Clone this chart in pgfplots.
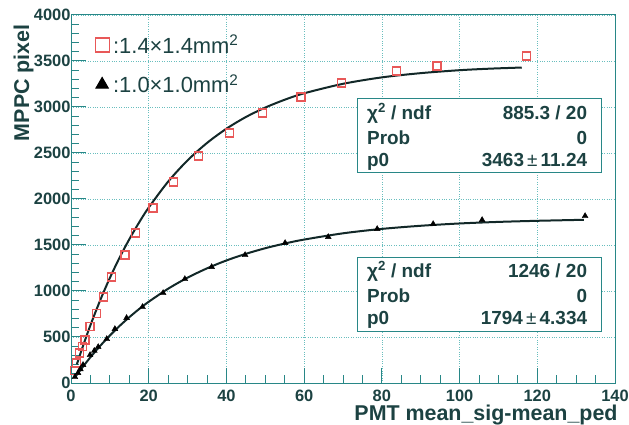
\documentclass[border=0pt]{standalone}
\usepackage{pgfplots}
\pgfplotsset{compat=1.18}
\usepackage{fontspec}
\setmainfont{Liberation Sans}

\definecolor{framec}{RGB}{40,135,135}
\definecolor{gridc}{RGB}{105,190,190}
\definecolor{txt}{RGB}{28,66,66}
\definecolor{sq}{RGB}{232,88,88}
\definecolor{fitc}{RGB}{18,40,40}

% measured points, 1.4x1.4 mm^2 MPPC
\pgfplotstableread{
x y
0.9 140
1.5 217
2.3 326
2.9 400
3.6 467
4.9 610
6.6 757
8.3 935
10.5 1152
13.9 1391
16.5 1630
21.1 1902
26.3 2185
32.7 2467
40.7 2717
49.2 2935
59.2 3109
69.7 3261
83.8 3391
94.2 3446
117.3 3554
}\bigpix

% measured points, 1.0x1.0 mm^2 MPPC
\pgfplotstableread{
x y
1.0 65
1.8 109
2.4 150
3.1 196
4.9 304
6.0 350
7.0 391
9.2 478
11.3 587
14.3 707
18.4 826
23.7 978
29.3 1130
36.2 1261
44.8 1391
55.1 1522
66.2 1587
78.8 1674
93.2 1728
105.8 1772
132.3 1815
}\smallpix

% saturation fit curves (tabulated)
\pgfplotstableread{
x y
1.5 202
3 392
5 628
7.5 898
10 1142
12.5 1363
15 1562
17.5 1743
20 1907
25 2189
30 2420
35 2609
40 2764
45 2891
50 2994
55 3079
60 3149
70 3252
80 3322
90 3368
100 3400
108 3417
116 3429
}\bigfit

\pgfplotstableread{
x y
1.0 60
1.5 89
3 173
5 280
7.5 403
10 516
12.5 620
15 715
17.5 803
20 883
25 1025
30 1145
35 1246
40 1332
45 1404
50 1465
55 1516
60 1559
70 1627
80 1675
90 1709
100 1734
110 1751
120 1763
132 1774
}\smallfit

\begin{document}
\begin{tikzpicture}
\begin{axis}[
  name=ax, scale only axis, width=544bp, height=368bp,
  xmin=0, xmax=140, ymin=0, ymax=4000,
  xtick={0,20,...,140}, ytick={0,500,...,4000},
  minor x tick num=3, minor y tick num=4,
  tick align=inside, xtick pos=bottom, ytick pos=left,
  major tick length=15bp, minor tick length=8bp,
  axis line style={framec, line width=1bp},
  every tick/.style={framec, line width=1bp},
  grid=major, grid style={gridc, dotted, line width=0.7bp},
  ticklabel style={font=\bfseries\fontsize{16.5}{16.5}\selectfont, text=txt},
  xticklabel style={yshift=-4bp},
  yticklabel style={xshift=3bp},
  /pgf/number format/assume math mode=true,
  /pgf/number format/1000 sep={},
  xlabel={PMT mean\_sig-mean\_ped}, ylabel={MPPC pixel},
  label style={font=\bfseries\fontsize{21.5}{21.5}\selectfont, text=txt, inner sep=0pt},
  xlabel style={at={(axis description cs:1.005,-0.103)}, anchor=base east},
  ylabel style={at={(axis description cs:-0.077,0.975)}, anchor=base east},
  legend style={draw=none, fill=none, at={(axis description cs:0.044,0.946)},
    anchor=north west, font=\fontsize{22}{22}\selectfont, text=txt,
    row sep=20bp, inner sep=0pt,
    nodes={inner xsep=4bp, inner ysep=0pt}},
  legend cell align=left,
  legend image code/.code={\draw[#1, mark size=7bp, line width=1.2bp] plot coordinates {(0bp,0bp)};},
  clip=false,
]
\addplot[only marks, mark=square, mark size=4bp, color=sq, line width=1.1bp]
  table {\bigpix};
\addlegendentry{:1.4×1.4mm\textsuperscript{2}}
\addplot[only marks, mark=triangle*, mark size=3.4bp, color=black]
  table {\smallpix};
\addlegendentry{:1.0×1.0mm\textsuperscript{2}}
\addplot[fitc, line width=2bp, smooth, forget plot] table {\bigfit};
\addplot[fitc, line width=2bp, smooth, forget plot] table {\smallfit};

% fit statistics boxes
\draw[framec, fill=white, line width=0.9bp]
  (rel axis cs:0.526,0.571) rectangle (rel axis cs:0.976,0.772);
\draw[framec, fill=white, line width=0.9bp]
  (rel axis cs:0.526,0.141) rectangle (rel axis cs:0.976,0.342);
\begin{scope}[font=\bfseries\fontsize{19}{19}\selectfont, text=txt]
\node[anchor=base west, inner sep=0pt] at (rel axis cs:0.544,0.717) {χ\textsuperscript{2} / ndf};
\node[anchor=base west, inner sep=0pt] at (rel axis cs:0.544,0.649) {Prob};
\node[anchor=base west, inner sep=0pt] at (rel axis cs:0.544,0.587) {p0};
\node[anchor=base east, inner sep=0pt] at (rel axis cs:0.949,0.717) {885.3 / 20};
\node[anchor=base east, inner sep=0pt] at (rel axis cs:0.949,0.649) {0};
\node[anchor=base east, inner sep=0pt] at (rel axis cs:0.949,0.587) {3463\,{\mdseries ±}\,11.24};
\node[anchor=base west, inner sep=0pt] at (rel axis cs:0.544,0.288) {χ\textsuperscript{2} / ndf};
\node[anchor=base west, inner sep=0pt] at (rel axis cs:0.544,0.220) {Prob};
\node[anchor=base west, inner sep=0pt] at (rel axis cs:0.544,0.160) {p0};
\node[anchor=base east, inner sep=0pt] at (rel axis cs:0.949,0.288) {1246 / 20};
\node[anchor=base east, inner sep=0pt] at (rel axis cs:0.949,0.220) {0};
\node[anchor=base east, inner sep=0pt] at (rel axis cs:0.949,0.160) {1794\,{\mdseries ±}\,4.334};
\end{scope}
\end{axis}
\pgfresetboundingbox
\path[use as bounding box] ([xshift=-71bp,yshift=-42bp]ax.south west)
  rectangle ([xshift=14bp,yshift=15bp]ax.north east);
\end{tikzpicture}
\end{document}
